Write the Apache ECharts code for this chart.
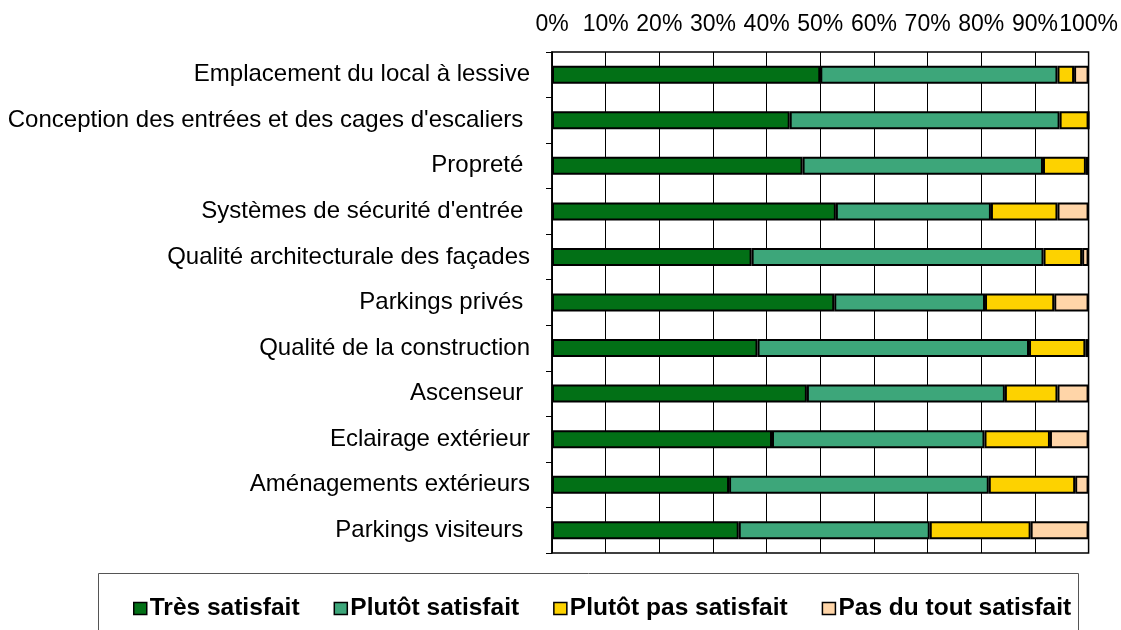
<!DOCTYPE html>
<html><head><meta charset="utf-8">
<script src="https://cdn.jsdelivr.net/npm/echarts@6/dist/echarts.min.js"></script>
<style>html,body{margin:0;padding:0;background:#fff}#c{width:1121px;height:630px}</style>
</head><body><div id="c"></div>
<script>
const categories = [
  "Emplacement du local à lessive",
  "Conception des entrées et des cages d'escaliers ",
  "Propreté ",
  "Systèmes de sécurité d'entrée ",
  "Qualité architecturale des façades",
  "Parkings privés ",
  "Qualité de la construction",
  "Ascenseur ",
  "Eclairage extérieur",
  "Aménagements extérieurs",
  "Parkings visiteurs "
];
const tresSatisfait      = [50.0, 44.3, 46.7, 52.9, 37.2, 52.6, 38.3, 47.5, 41.0, 33.0, 34.8];
const plutotSatisfait    = [44.2, 50.3, 44.8, 28.9, 54.4, 28.1, 50.6, 36.9, 39.6, 48.4, 35.6];
const plutotPasSatisfait = [3.1, 5.4, 8.0, 12.4, 7.2, 12.9, 10.5, 9.8, 12.2, 16.1, 18.8];
const pasDuToutSatisfait = [2.7, 0.0, 0.5, 5.8, 1.2, 6.4, 0.6, 5.8, 7.2, 2.5, 10.8];
const seriesNames = ["Très satisfait", "Plutôt satisfait", "Plutôt pas satisfait", "Pas du tout satisfait"];
const colors = ["#027016", "#3DA67A", "#FDD200", "#FFD5A8"];
const values = [tresSatisfait, plutotSatisfait, plutotPasSatisfait, pasDuToutSatisfait];

const font = "'Liberation Sans', Arial, sans-serif";
const chart = echarts.init(document.getElementById('c'), null, {renderer: 'canvas'});
chart.setOption({
  animation: false,
  backgroundColor: '#fff',
  textStyle: {fontFamily: font, color: '#000'},
  grid: {left: 552, right: 31, top: 52, bottom: 77, show: true, borderColor: '#000', borderWidth: 1.5, containLabel: false},
  graphic: [{
    type: 'rect', shape: {x: 98.5, y: 573.5, width: 980, height: 70},
    style: {fill: 'none', stroke: '#555', lineWidth: 1}, silent: true
  }],
  legend: {
    data: seriesNames,
    left: 128, top: 591,
    icon: 'rect', itemWidth: 13, itemHeight: 12, itemGap: 34,
    textStyle: {fontFamily: font, fontSize: 24.5, fontWeight: 'bold', color: '#000', padding: [0, 0, 0, -2]},
    itemStyle: {borderColor: '#000', borderWidth: 1.5}
  },
  xAxis: {
    type: 'value', position: 'top', min: 0, max: 100, interval: 10,
    axisLabel: {formatter: '{value}%', fontSize: 23, color: '#000', fontFamily: font, margin: 16},
    axisLine: {show: false}, axisTick: {show: false},
    splitLine: {show: true, lineStyle: {color: '#000', width: 1}}
  },
  yAxis: {
    type: 'category', data: categories, inverse: true,
    axisLine: {show: true, lineStyle: {color: '#000', width: 1.5}},
    axisTick: {show: true, length: 6, alignWithLabel: false, lineStyle: {color: '#000'}},
    axisLabel: {fontSize: 24, color: '#000', fontFamily: font, margin: 22},
    splitLine: {show: false}
  },
  series: values.map((v, i) => ({
    name: seriesNames[i], type: 'bar', stack: 'total', data: v, barWidth: 18,
    itemStyle: {color: colors[i], borderColor: '#000', borderWidth: 2}
  }))
});
</script></body></html>
